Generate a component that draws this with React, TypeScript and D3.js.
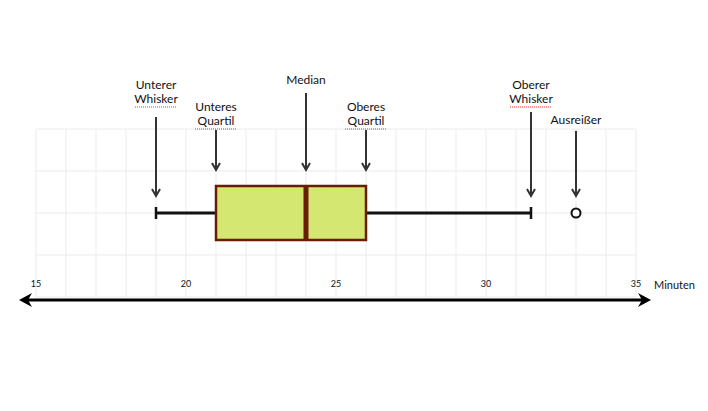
import React from 'react'
import * as d3 from 'd3'

// box plot summary (minutes)
const stats = { low: 19, q1: 21, median: 24, q3: 26, high: 31.5 }
const outliers = [33]
const ticks = [15, 20, 25, 30, 35]

// annotations: label lines, value, arrow start / end y, label y
const labels: [string[], number, number, number, number][] = [
  [['Unterer', 'Whisker'], 19, 117, 196, 86],
  [['Unteres', 'Quartil'], 21, 130, 170, 108],
  [['Median'], 24, 93, 170, 81],
  [['Oberes', 'Quartil'], 26, 130, 170, 108],
  [['Oberer', 'Whisker'], 31.5, 112, 196, 86],
  [['Ausreißer'], 33, 131, 196, 121],
]
const squiggly = ['Whisker', 'Quartil']

const W = 708
const H = 411
const font = 'Lato, "Open Sans", sans-serif'

export default function App() {
  const x = d3.scaleLinear().domain([15, 35]).range([36, 636])
  const gridX = d3.range(15, 36)
  const gridY = [129, 171, 213, 255, 297]
  const midY = 213
  const boxTop = 186
  const boxBot = 240

  const arrowHead = (cx: number, y: number) =>
    `M${cx - 4},${y - 7} L${cx},${y} L${cx + 4},${y - 7}`

  return (
    <svg width={W} height={H} style={{ position: 'absolute', left: 0, top: 0 }}>
      <rect width={W} height={H} fill="#fff" />
      {/* grid */}
      <g stroke="#ebebeb" strokeWidth={1}>
        {gridX.map((v) => (
          <line key={'v' + v} x1={x(v)} x2={x(v)} y1={129} y2={297} />
        ))}
        {gridY.map((y) => (
          <line key={'h' + y} x1={x(15)} x2={x(35)} y1={y} y2={y} />
        ))}
      </g>

      {/* whiskers */}
      <line x1={x(stats.low)} x2={x(stats.q1)} y1={midY} y2={midY} stroke="#111" strokeWidth={3} />
      <line x1={x(stats.q3)} x2={x(stats.high)} y1={midY} y2={midY} stroke="#111" strokeWidth={3} />
      <line x1={x(stats.low)} x2={x(stats.low)} y1={midY - 6} y2={midY + 6} stroke="#111" strokeWidth={2.5} />
      <line x1={x(stats.high)} x2={x(stats.high)} y1={midY - 6} y2={midY + 6} stroke="#111" strokeWidth={2.5} />

      {/* box */}
      <rect
        x={x(stats.q1)}
        y={boxTop}
        width={x(stats.q3) - x(stats.q1)}
        height={boxBot - boxTop}
        fill="#d4e770"
        stroke="#6b1c04"
        strokeWidth={2.5}
      />
      <line x1={x(stats.median)} x2={x(stats.median)} y1={boxTop} y2={boxBot} stroke="#6b1c04" strokeWidth={5} />

      {outliers.map((o) => (
        <circle key={o} cx={x(o)} cy={midY} r={4.5} fill="#fff" stroke="#111" strokeWidth={2} />
      ))}

      {/* annotations */}
      {labels.map(([lines, v, y0, y1, ly]) => {
        const cx = x(v)
        return (
          <g key={lines.join(' ')}>
            <line x1={cx} x2={cx} y1={y0} y2={y1} stroke="#333" strokeWidth={2} />
            <path d={arrowHead(cx, y1)} fill="none" stroke="#333" strokeWidth={2} />
            {lines.map((t, i) => {
              const ty = ly + i * 14
              return (
                <g key={t}>
                  <text
                    x={cx}
                    y={ty}
                    textAnchor="middle"
                    dominantBaseline="middle"
                    fontFamily={font}
                    fontSize={12}
                    fill="#111"
                  >
                    {t}
                  </text>
                  {squiggly.includes(t) && (
                    <line
                      x1={cx - t.length * 3}
                      x2={cx + t.length * 3}
                      y1={ty + 7}
                      y2={ty + 7}
                      stroke="#e33"
                      strokeWidth={1}
                      strokeDasharray="1,1"
                    />
                  )}
                </g>
              )
            })}
          </g>
        )
      })}

      {/* axis */}
      {ticks.map((t) => (
        <text key={t} x={x(t)} y={285} textAnchor="middle" dominantBaseline="middle" fontFamily={font} fontSize={9} fill="#111">
          {t}
        </text>
      ))}
      <text x={654} y={286} dominantBaseline="middle" fontFamily={font} fontSize={11} fill="#111">
        Minuten
      </text>
      <line x1={26} x2={644} y1={300} y2={300} stroke="#000" strokeWidth={3} />
      <path d="M19,300 L32,293 L28,300 L32,307 Z" fill="#000" />
      <path d="M651,300 L638,293 L642,300 L638,307 Z" fill="#000" />
    </svg>
  )
}
